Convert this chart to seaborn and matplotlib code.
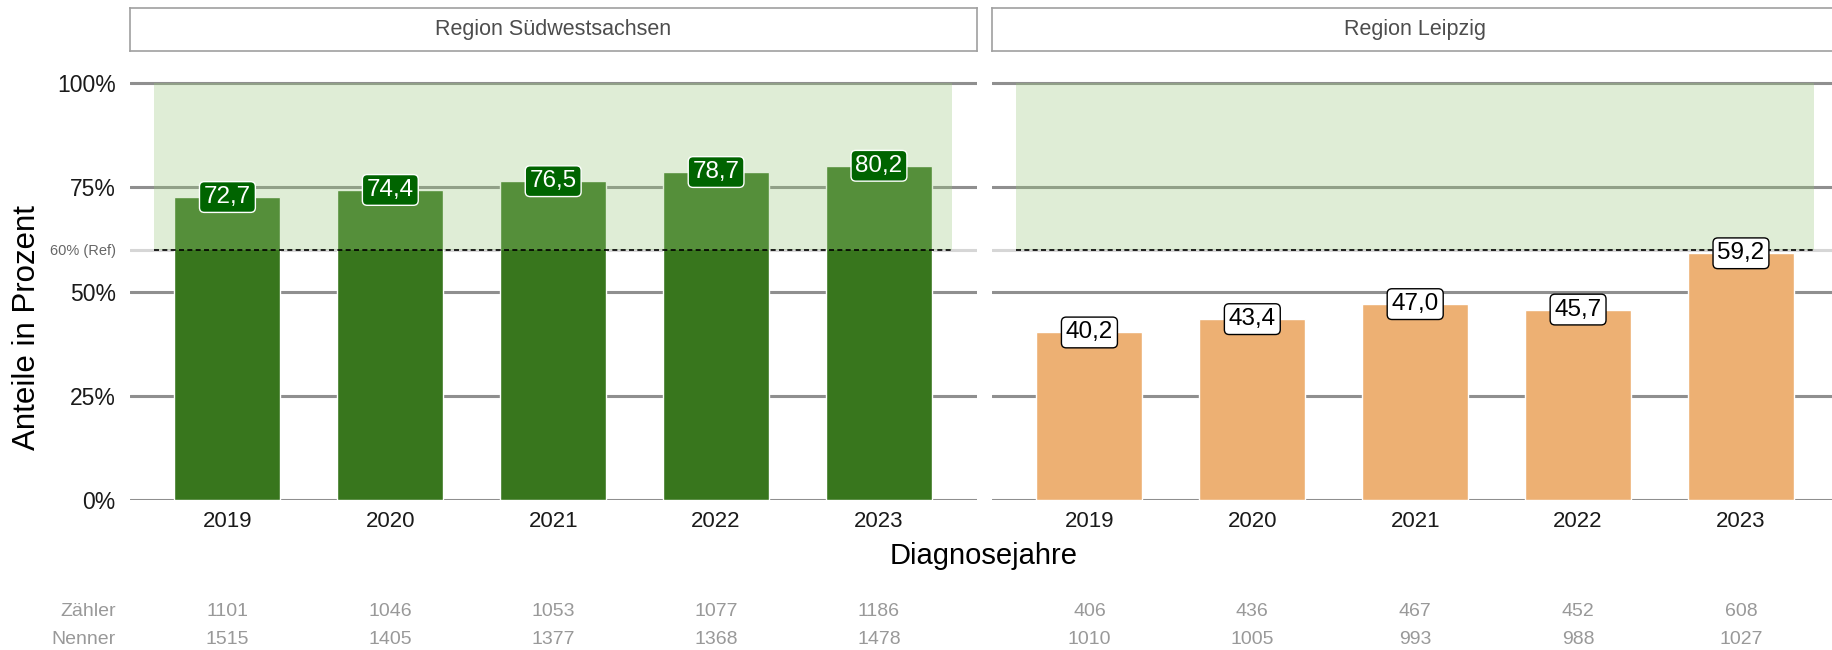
import matplotlib
matplotlib.use("Agg")
import matplotlib.pyplot as plt
import matplotlib.transforms as mtransforms
import seaborn as sns
import pandas as pd

# Daten
years = ["2019", "2020", "2021", "2022", "2023"]
regions = ["Region Südwestsachsen", "Region Leipzig"]
anteil_sws = [72.7, 74.4, 76.5, 78.7, 80.2]
anteil_lpz = [40.2, 43.4, 47.0, 45.7, 59.2]
zaehler_sws = [1101, 1046, 1053, 1077, 1186]
nenner_sws = [1515, 1405, 1377, 1368, 1478]
zaehler_lpz = [406, 436, 467, 452, 608]
nenner_lpz = [1010, 1005, 993, 988, 1027]
ref_wert = 60
y_ticks = [0, 25, 50, 60, 75, 100]
y_ticklabels = ["0%", "25%", "50%", "60% (Ref)", "75%", "100%"]

sns.set_theme(style="white")
plt.rcParams["font.family"] = ["Liberation Sans", "DejaVu Sans"]

W, H = 1832, 650
fig = plt.figure(figsize=(W / 100, H / 100), dpi=100)


def px_box(x0, y0, x1, y1):
    # Pixelkoordinaten (oben links) -> Figure-Koordinaten
    return [x0 / W, 1 - y1 / H, (x1 - x0) / W, (y1 - y0) / H]


panel_w = 847
panels = [
    dict(title=regions[0], werte=anteil_sws, z=zaehler_sws, n=nenner_sws, x0=129.7,
         bar="#38761D", fill="#006400", txt="white", edge="white"),
    dict(title=regions[1], werte=anteil_lpz, z=zaehler_lpz, n=nenner_lpz, x0=991.7,
         bar="#EDB073", fill="white", txt="black", edge="black"),
]

for k, p in enumerate(panels):
    x0 = p["x0"]
    ax = fig.add_axes(px_box(x0, 52, x0 + panel_w, 500))
    df = pd.DataFrame({"Jahr": years, "Anteil": p["werte"]})
    sns.barplot(data=df, x="Jahr", y="Anteil", color=p["bar"], saturation=1,
                width=0.65, ax=ax, zorder=2)
    ax.set_xlim(-0.6, 4.6)
    ax.set_ylim(0, 107.5)
    ax.set_xlabel("")
    ax.set_ylabel("")
    sns.despine(ax=ax, left=True, bottom=True)

    # Gitterlinien
    ax.set_yticks(y_ticks)
    ax.set_axisbelow(True)
    ax.grid(axis="y", color="#8f8f8f", lw=2.2)
    ax.grid(axis="x", visible=False)
    ax.get_ygridlines()[3].set_color("#d6d6d6")

    # Zielbereich und Referenzlinie
    ax.fill_between([-0.45, 4.45], ref_wert, 100, color="#98C87B", alpha=0.31, lw=0, zorder=3)
    ax.plot([-0.45, 4.45], [ref_wert, ref_wert], color="black", ls=(0, (3, 2)), lw=1.2, zorder=4)

    # Werte-Labels
    for i, v in enumerate(p["werte"]):
        ax.text(i, v, f"{v:.1f}".replace(".", ","), ha="center", va="center",
                fontsize=17.5, color=p["txt"], zorder=5,
                bbox=dict(boxstyle="round,pad=0.18,rounding_size=0.2",
                          fc=p["fill"], ec=p["edge"], lw=1))

    ax.tick_params(axis="x", labelsize=16, labelcolor="#1a1a1a", pad=8, length=0)
    if k == 0:
        ax.set_yticklabels(y_ticklabels)
        ax.tick_params(axis="y", labelsize=16.5, labelcolor="#1a1a1a", pad=10, length=0)
        lbl = ax.get_yticklabels()[3]
        lbl.set_fontsize(10.5)
        lbl.set_color("#666666")
    else:
        ax.set_yticklabels([])
        ax.tick_params(axis="y", length=0)

    # Zähler / Nenner unter den Jahren
    trans = mtransforms.blended_transform_factory(ax.transData, fig.transFigure)
    for i in range(len(years)):
        ax.text(i, 1 - 611 / H, str(p["z"][i]), transform=trans, ha="center", va="center",
                fontsize=14, color="#999999")
        ax.text(i, 1 - 639 / H, str(p["n"][i]), transform=trans, ha="center", va="center",
                fontsize=14, color="#999999")

    # Facetten-Titel
    sax = fig.add_axes(px_box(x0, 7.5, x0 + panel_w, 51))
    sax.set_xticks([])
    sax.set_yticks([])
    for s in sax.spines.values():
        s.set_color("#a0a0a0")
        s.set_linewidth(1.2)
    sax.text(0.5, 0.5, p["title"], ha="center", va="center", fontsize=15.5,
             color="#4d4d4d", transform=sax.transAxes)

fig.text(116 / W, 1 - 611 / H, "Zähler", ha="right", va="center", fontsize=14, color="#999999")
fig.text(116 / W, 1 - 639 / H, "Nenner", ha="right", va="center", fontsize=14, color="#999999")

fig.text(27 / W, 1 - 328 / H, "Anteile in Prozent", rotation=90, ha="center", va="center",
         fontsize=22.5, color="black")
fig.text(984 / W, 1 - 556 / H, "Diagnosejahre", ha="center", va="center",
         fontsize=21, color="black")

fig.savefig("out.png", dpi=100)
